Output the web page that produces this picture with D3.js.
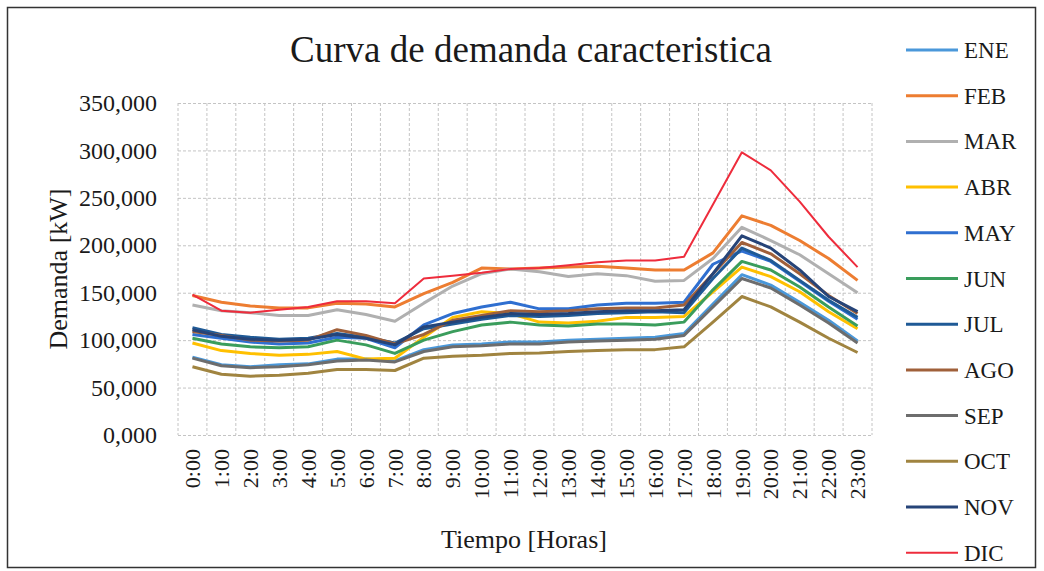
<!DOCTYPE html>
<html>
<head>
<meta charset="utf-8">
<script src="https://cdnjs.cloudflare.com/ajax/libs/d3/7.8.5/d3.min.js"></script>
<style>
	body { margin: 0; background: #fff; }
	svg text { font-family: "Liberation Serif", "Times New Roman", serif; fill: #1a1a1a; }
</style>
</head>
<body>
<div id="chart"></div>
<script>
var horas = ['0:00','1:00','2:00','3:00','4:00','5:00','6:00','7:00','8:00','9:00','10:00','11:00',
	'12:00','13:00','14:00','15:00','16:00','17:00','18:00','19:00','20:00','21:00','22:00','23:00'];
var meses = ['ENE','FEB','MAR','ABR','MAY','JUN','JUL','AGO','SEP','OCT','NOV','DIC'];
var yTicks = [0, 50, 100, 150, 200, 250, 300, 350];

var ene = [82,74,72,74,75,80,80,78,90,95,96,98,98,100,101,102,103,107,138,169,158,140,121,99];
var feb = [147,140,136,134,134,139,138,135,149,161,176,175,176,177,178,176,174,174,192,231,221,205,186,163];
var mar = [137,131,129,126,126,132,127,120,139,157,170,175,172,167,170,168,162,163,186,219,205,190,170,150];
var abr = [97,89,86,84,85,88,80,81,103,124,130,128,119,118,120,124,124,125,151,177,167,151,130,112];
var may = [106,102,98,96,97,103,102,92,116,128,135,140,133,133,137,139,139,140,180,194,183,162,141,122];
var jun = [102,96,93,92,93,100,95,86,100,109,116,119,116,115,117,117,116,119,153,183,174,156,135,115];
var jul = [113,106,103,101,102,107,103,97,112,117,122,126,125,126,128,129,130,129,165,197,184,163,142,124];
var ago = [109,105,100,99,100,111,105,96,106,121,126,131,130,131,133,134,134,137,170,203,191,170,147,128];
var sep = [81,73,71,72,74,78,79,77,88,93,94,96,96,98,99,100,101,105,135,165,155,137,118,97];
var oct = [72,64,62,63,65,69,69,68,81,83,84,86,86.5,88,89,90,90,93,119,146,135,119,102,87];
var nov = [111,104,101,100,101,106,102,95,114,119,124,128,127,128,130,131,131,132,170,210,197,174,146,130];
var dic = [148,131,129,132,135,141,141,139,165,168,171,175,176,179,182,184,184,188,243,298,279,246,209,177];

var valores = [ene, feb, mar, abr, may, jun, jul, ago, sep, oct, nov, dic];
var colores = ['#4a98da','#ed7d31','#b0b0b0','#ffc000','#2f6fd0','#3a9d5c',
	'#1f5a96','#a0603a','#6d6d6d','#a08440','#264478','#ee2c3c'];

var fuente = '"Liberation Serif", "Times New Roman", serif';

var width = 1044, height = 571;
var margin = {top: 103, right: 172, bottom: 136, left: 178};
var W = width - margin.left - margin.right;
var H = height - margin.top - margin.bottom;

var svg = d3.select('#chart').append('svg')
	.attr('width', width)
	.attr('height', height)
	.attr('font-family', fuente);

// marco exterior
svg.append('rect')
	.attr('x', 7.5)
	.attr('y', 7.5)
	.attr('width', 1028)
	.attr('height', 560)
	.attr('fill', 'none')
	.attr('stroke', '#333')
	.attr('stroke-width', 1.5);

svg.append('text')
	.attr('x', 531)
	.attr('y', 62)
	.attr('text-anchor', 'middle')
	.style('font-family', fuente)
	.style('font-size', '37px')
	.text('Curva de demanda caracteristica');

var g = svg.append('g')
	.attr('transform', 'translate(' + [margin.left, margin.top] + ')');

var x = d3.scaleBand()
	.domain(horas)
	.range([0, W])
	.padding(0);

var y = d3.scaleLinear()
	.domain([0, 350])
	.range([H, 0]);

var fmt = function(d){
	return d3.format(',.3f')(d).replace('.', ',');
};

// rejilla horizontal
g.append('g')
	.call(d3.axisLeft(y).tickValues(yTicks).tickSize(-W).tickFormat(''))
	.call(function(s){
		s.select('.domain').remove();
		s.selectAll('line')
			.attr('stroke', '#c4c4c4')
			.attr('stroke-dasharray', '3,2');
	});

// rejilla vertical en los limites de cada categoria
var bordes = horas.map(function(d){ return x(d); }).concat([W]);
g.append('g')
	.selectAll('line')
	.data(bordes)
	.enter().append('line')
	.attr('x1', function(d){ return d; })
	.attr('x2', function(d){ return d; })
	.attr('y1', 0)
	.attr('y2', H)
	.attr('stroke', '#c4c4c4')
	.attr('stroke-dasharray', '3,2');

// etiquetas eje y
g.append('g')
	.call(d3.axisLeft(y).tickValues(yTicks).tickSize(0).tickPadding(21).tickFormat(fmt))
	.call(function(s){
		s.attr('font-family', fuente);
		s.select('.domain').remove();
		s.selectAll('text')
			.style('font-family', fuente)
			.style('font-size', '24px')
			.attr('fill', '#1a1a1a');
	});

// etiquetas eje x
g.append('g')
	.attr('transform', 'translate(0,' + H + ')')
	.call(d3.axisBottom(x).tickSize(0).tickFormat(function(d){ return d; }))
	.call(function(s){
		s.attr('font-family', fuente);
		s.select('.domain').remove();
		s.selectAll('text')
			.style('font-family', fuente)
			.style('font-size', '22px')
			.attr('fill', '#1a1a1a')
			.attr('text-anchor', 'end')
			.attr('transform', 'rotate(-90)')
			.attr('x', -14)
			.attr('y', 0)
			.attr('dy', '0.35em');
	});

svg.append('text')
	.attr('transform', 'translate(' + [67, 269] + ') rotate(-90)')
	.attr('text-anchor', 'middle')
	.style('font-family', fuente)
	.style('font-size', '26px')
	.text('Demanda [kW]');

svg.append('text')
	.attr('x', 524)
	.attr('y', 548)
	.attr('text-anchor', 'middle')
	.style('font-family', fuente)
	.style('font-size', '26px')
	.text('Tiempo [Horas]');

var linea = d3.line()
	.x(function(d, i){ return x(horas[i]) + x.bandwidth() / 2; })
	.y(function(d){ return y(d); });

g.selectAll('path.serie')
	.data(valores)
	.enter().append('path')
	.attr('class', 'serie')
	.attr('d', linea)
	.attr('fill', 'none')
	.attr('stroke', function(d, i){ return colores[i]; })
	.attr('stroke-width', function(d, i){ return i == 11 ? 2 : 3; })
	.attr('stroke-linejoin', 'round');

// leyenda
var leyenda = svg.append('g')
	.attr('transform', 'translate(' + [906, 50] + ')');

var item = leyenda.selectAll('g')
	.data(meses)
	.enter().append('g')
	.attr('transform', function(d, i){
		return 'translate(' + [0, i * 45.7] + ')';
	});

item.append('line')
	.attr('x1', 0)
	.attr('x2', 52)
	.attr('stroke', function(d, i){ return colores[i]; })
	.attr('stroke-width', function(d, i){ return i == 11 ? 2 : 3; });

item.append('text')
	.attr('x', 58)
	.attr('dy', '0.35em')
	.style('font-family', fuente)
	.style('font-size', '23px')
	.text(function(d){ return d; });
</script>
</body>
</html>
